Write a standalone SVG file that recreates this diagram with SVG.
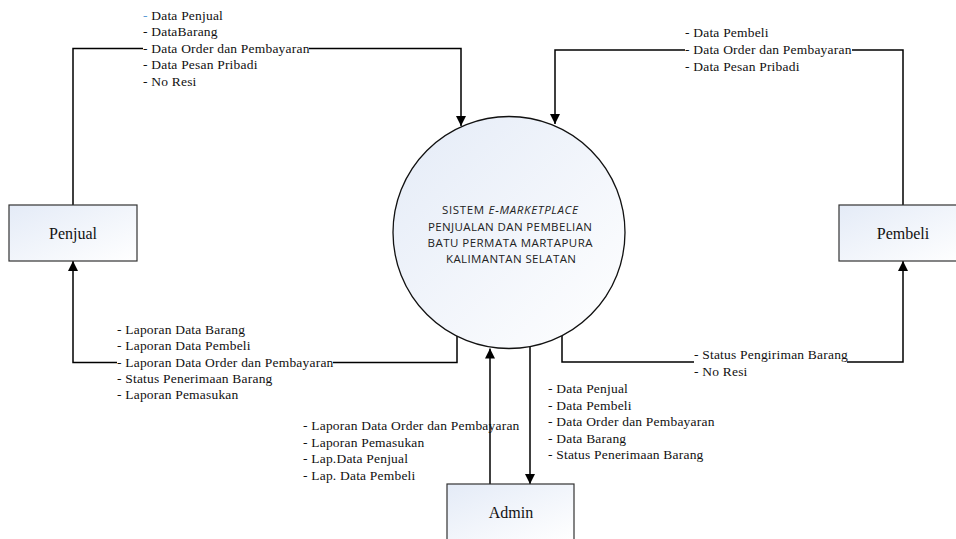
<svg xmlns="http://www.w3.org/2000/svg" width="956" height="539" viewBox="0 0 956 539">
<defs>
<linearGradient id="g" x1="0" y1="0" x2="1" y2="1">
<stop offset="0" stop-color="#e4ebf7"/>
<stop offset="1" stop-color="#ffffff"/>
</linearGradient>
<marker id="arr" markerUnits="userSpaceOnUse" markerWidth="10" markerHeight="10" refX="10" refY="5" orient="auto" viewBox="0 0 10 10">
<path d="M0,0 L10,5 L0,10 z" fill="#000"/>
</marker>
<style>
.box{fill:url(#g);stroke:#333;stroke-width:1.2}
.ent{font-family:"Liberation Serif","Times New Roman",serif;font-size:16px;fill:#111;text-anchor:middle}
.lbl{font-family:"Liberation Serif","Times New Roman",serif;font-size:13.5px;letter-spacing:0.2px;fill:#111}
.sys{font-family:"Open Sans","Liberation Sans",sans-serif;font-size:11.5px;fill:#222;text-anchor:middle}
.ln{fill:none;stroke:#000;stroke-width:1.5}
</style>
</defs>
<rect width="956" height="539" fill="#fff"/>

<g id="connectors">
<path class="ln" d="M73,205 V48.5 H143"/>
<path class="ln" d="M309,48.5 H461 V126" marker-end="url(#arr)"/>
<path class="ln" d="M903,205 V50 H852"/>
<path class="ln" d="M685,50 H555 V124" marker-end="url(#arr)"/>
<path class="ln" d="M457,336 V362.5 H333"/>
<path class="ln" d="M117,362.5 H73 V261" marker-end="url(#arr)"/>
<path class="ln" d="M562,336 V362 H694"/>
<path class="ln" d="M847,362 H903 V261" marker-end="url(#arr)"/>
<path class="ln" d="M490,484 V348.5" marker-end="url(#arr)"/>
<path class="ln" d="M530,347 V484" marker-end="url(#arr)"/>
</g>

<g id="labels">
<text class="lbl" x="143" y="19.5"><tspan fill="#5b9bd5">-</tspan> Data Penjual</text>
<text class="lbl" x="143" y="36">- DataBarang</text>
<text class="lbl" x="143" y="52.5">- Data Order dan Pembayaran</text>
<text class="lbl" x="143" y="69">- Data Pesan Pribadi</text>
<text class="lbl" x="143" y="85.5">- No Resi</text>

<text class="lbl" x="685" y="37">- Data Pembeli</text>
<text class="lbl" x="685" y="54">- Data Order dan Pembayaran</text>
<text class="lbl" x="685" y="71">- Data Pesan Pribadi</text>

<text class="lbl" x="117" y="334">- Laporan Data Barang</text>
<text class="lbl" x="117" y="350.4">- Laporan Data Pembeli</text>
<text class="lbl" x="117" y="366.7">- Laporan Data Order dan Pembayaran</text>
<text class="lbl" x="117" y="383">- Status Penerimaan Barang</text>
<text class="lbl" x="117" y="399.3">- Laporan Pemasukan</text>

<text class="lbl" x="694" y="359">- Status Pengiriman Barang</text>
<text class="lbl" x="694" y="376">- No Resi</text>

<text class="lbl" x="548" y="393">- Data Penjual</text>
<text class="lbl" x="548" y="409.5">- Data Pembeli</text>
<text class="lbl" x="548" y="426">- Data Order dan Pembayaran</text>
<text class="lbl" x="548" y="442.5">- Data Barang</text>
<text class="lbl" x="548" y="459">- Status Penerimaan Barang</text>

<text class="lbl" x="303" y="430">- Laporan Data Order dan Pembayaran</text>
<text class="lbl" x="303" y="446.5">- Laporan Pemasukan</text>
<text class="lbl" x="303" y="463">- Lap.Data Penjual</text>
<text class="lbl" x="303" y="479.5">- Lap. Data Pembeli</text>
</g>

<g id="sistem">
<circle cx="509" cy="232.5" r="116" fill="url(#g)" stroke="#111" stroke-width="1.3"/>
<text class="sys" x="510" y="214" textLength="136" lengthAdjust="spacing">SISTEM <tspan font-style="italic">E-MARKETPLACE</tspan></text>
<text class="sys" x="510" y="231" textLength="164" lengthAdjust="spacing">PENJUALAN DAN PEMBELIAN</text>
<text class="sys" x="510" y="247" textLength="165" lengthAdjust="spacing">BATU PERMATA MARTAPURA</text>
<text class="sys" x="511" y="263" textLength="130" lengthAdjust="spacing">KALIMANTAN SELATAN</text>
</g>

<g id="penjual">
<rect class="box" x="9" y="205" width="128" height="56"/>
<text class="ent" x="73" y="239">Penjual</text>
</g>

<g id="pembeli">
<rect class="box" x="839" y="205" width="128" height="56"/>
<text class="ent" x="903" y="239">Pembeli</text>
</g>

<g id="admin">
<rect class="box" x="447" y="484" width="127" height="56"/>
<text class="ent" x="511" y="518">Admin</text>
</g>
</svg>
